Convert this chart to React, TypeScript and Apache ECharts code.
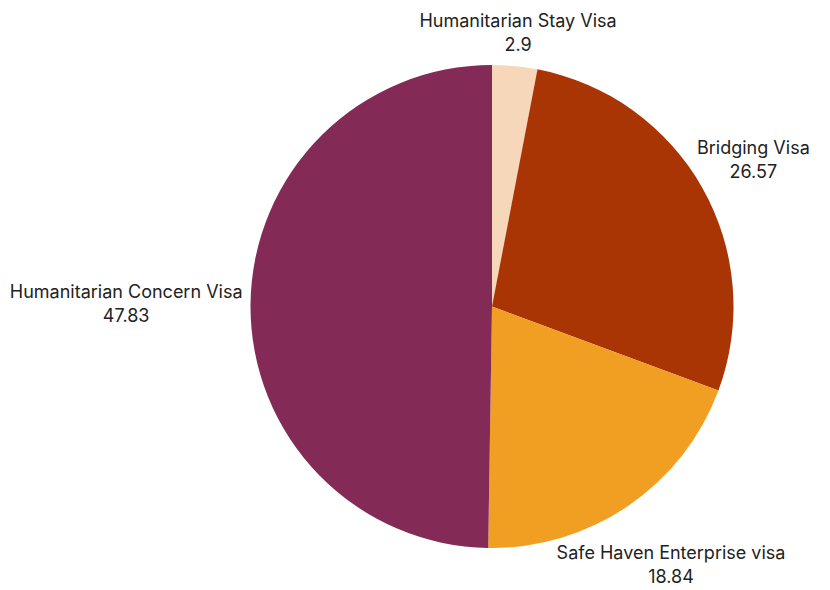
import React, { useEffect, useRef } from "react";
import * as echarts from "echarts";

const categories = [
  "Humanitarian Stay Visa",
  "Bridging Visa",
  "Safe Haven Enterprise visa",
  "Humanitarian Concern Visa",
];
const values = [2.9, 26.57, 18.84, 47.83];
const valueLabels = ["2.9", "26.57", "18.84", "47.83"];
const colors = ["#f6d7b9", "#aa3504", "#f19f22", "#832a57"];

const CX = 492;
const CY = 306.5;
const R = 241.5;
const GAP = 8;
const FONT_SIZE = 18;
const LINE_H = 24;
const FONT_FAMILY = "Inter, 'Noto Sans', sans-serif";

function measure(text: string): number {
  const cv = document.createElement("canvas");
  const ctx = cv.getContext("2d");
  if (!ctx) return text.length * FONT_SIZE * 0.55;
  ctx.font = `${FONT_SIZE}px ${FONT_FAMILY}`;
  return ctx.measureText(text).width;
}

export default function App() {
  const ref = useRef<HTMLDivElement>(null);
  useEffect(() => {
    if (!ref.current) return;
    const chart = echarts.init(ref.current, null, { renderer: "svg" });
    const total = values.reduce((a, b) => a + b, 0);
    let acc = 0;
    const labels = categories.map((name, i) => {
      const mid = ((acc + values[i] / 2) / total) * Math.PI * 2;
      acc += values[i];
      const s = Math.sin(mid);
      const c = Math.cos(mid);
      const a = Math.max(measure(name), measure(valueLabels[i])) / 2;
      const b = LINE_H;
      const ext = Math.sqrt((s * a) * (s * a) + (c * b) * (c * b));
      const dist = R + GAP + ext;
      return {
        type: "text",
        x: CX + dist * s,
        y: Math.min(CY - dist * c, 590 - b - 2),
        silent: true,
        style: {
          text: `${name}\n${valueLabels[i]}`,
          fontSize: FONT_SIZE,
          lineHeight: LINE_H,
          fontFamily: FONT_FAMILY,
          fill: "#222222",
          textAlign: "center",
          textVerticalAlign: "middle",
        },
      };
    });
    chart.setOption({
      animation: false,
      backgroundColor: "#ffffff",
      series: [
        {
          type: "pie",
          center: [CX, CY],
          radius: [0, R],
          startAngle: 90,
          clockwise: true,
          avoidLabelOverlap: false,
          data: categories.map((name, i) => ({
            name,
            value: values[i],
            itemStyle: { color: colors[i] },
          })),
          itemStyle: { borderWidth: 0 },
          label: { show: false },
          labelLine: { show: false },
          emphasis: { disabled: true },
        },
      ],
      graphic: labels,
    });
    return () => chart.dispose();
  }, []);
  return (
    <div
      ref={ref}
      style={{ position: "fixed", left: 0, top: 0, width: 830, height: 590 }}
    />
  );
}
